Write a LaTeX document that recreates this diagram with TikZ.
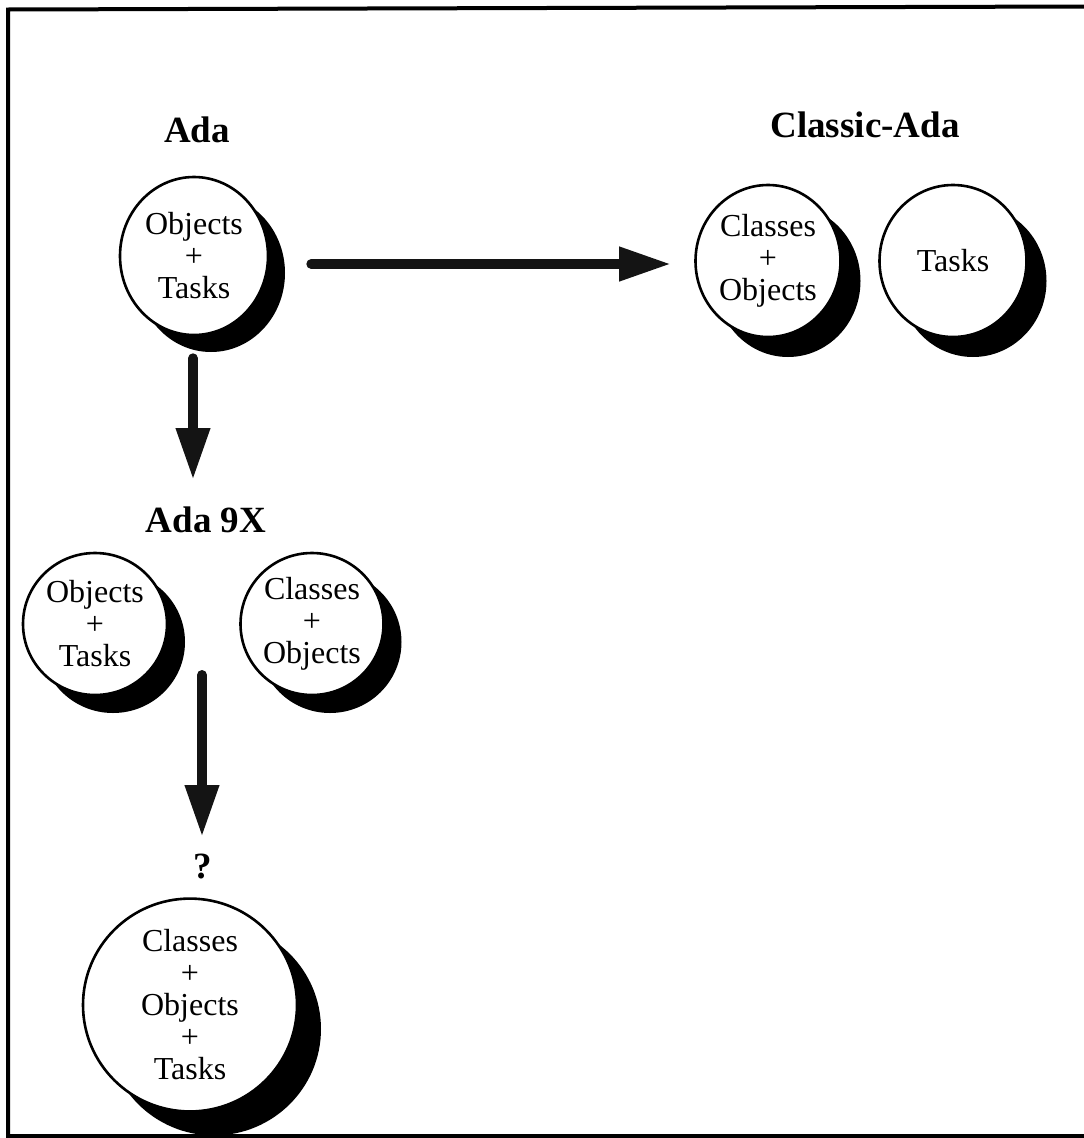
\documentclass[tikz,border=0pt]{standalone}
\usepackage{fontspec}
\setmainfont{Liberation Serif}
\usetikzlibrary{shapes.geometric,shadows,arrows.meta}

\begin{document}
\begin{tikzpicture}[x=1pt,y=-1pt,
  bubble/.style={ellipse, draw, line width=2.6pt, fill=white, inner sep=0pt,
    align=center, font=\fontsize{32}{32}\selectfont},
  crescent/.style={drop shadow={shadow xshift=#1pt, shadow yshift=-#1pt,
    fill=black, opacity=1}},
  heading/.style={anchor=base, inner sep=0pt, font=\bfseries\fontsize{37}{37}\selectfont},
  bigarrow/.style={line width=10pt, line cap=round, draw=black!92,
    -{Triangle[length=52pt,width=32pt,fill=black!92]}}]
\useasboundingbox (0,0) rectangle (1084,1138);

% page frame (open on the right)
\draw[line width=4pt] (1084,6.5) -- (8,9.5) -- (8,1136) -- (1084,1136);

% headings
\node[heading] (tAda)  at (197,142) {Ada};
\node[heading] (tCls)  at (865,137) {Classic-Ada};
\node[heading] (t9x)   at (206,532) {Ada 9X};
\node[heading] (tQ)    at (203,878) {?};

% bubbles
\node[bubble, crescent=17, minimum width=148pt, minimum height=158pt] (ada) at (194,256)
  {Objects\\+\\Tasks};
\node[bubble, crescent=20, minimum width=145pt, minimum height=152pt] (clsA) at (768,261)
  {Classes\\+\\Objects};
\node[bubble, crescent=20, minimum width=147pt, minimum height=152pt] (clsB) at (953,261)
  {Tasks};
\node[bubble, crescent=18, minimum width=144pt, minimum height=142pt] (nxA) at (95,624)
  {Objects\\+\\Tasks};
\node[bubble, crescent=18, minimum width=143pt, minimum height=142pt] (nxB) at (312,624)
  {Classes\\+\\Objects};
\node[bubble, crescent=24, minimum width=214pt, minimum height=196pt] (fut) at (190,1005)
  {Classes\\+\\Objects\\+\\Tasks};

% arrow end points
\coordinate (d1) at (193,480);
\coordinate (s2) at (202,675);
\coordinate (d2) at (202,837);

% connectors
\draw[bigarrow] ([shift={(42,8)}]ada.east) -- ([shift={(-23,3)}]clsA.west);
\draw[bigarrow] ([shift={(-1,22)}]ada.south) -- (d1);
\draw[bigarrow] (s2) -- (d2);
\end{tikzpicture}
\end{document}
